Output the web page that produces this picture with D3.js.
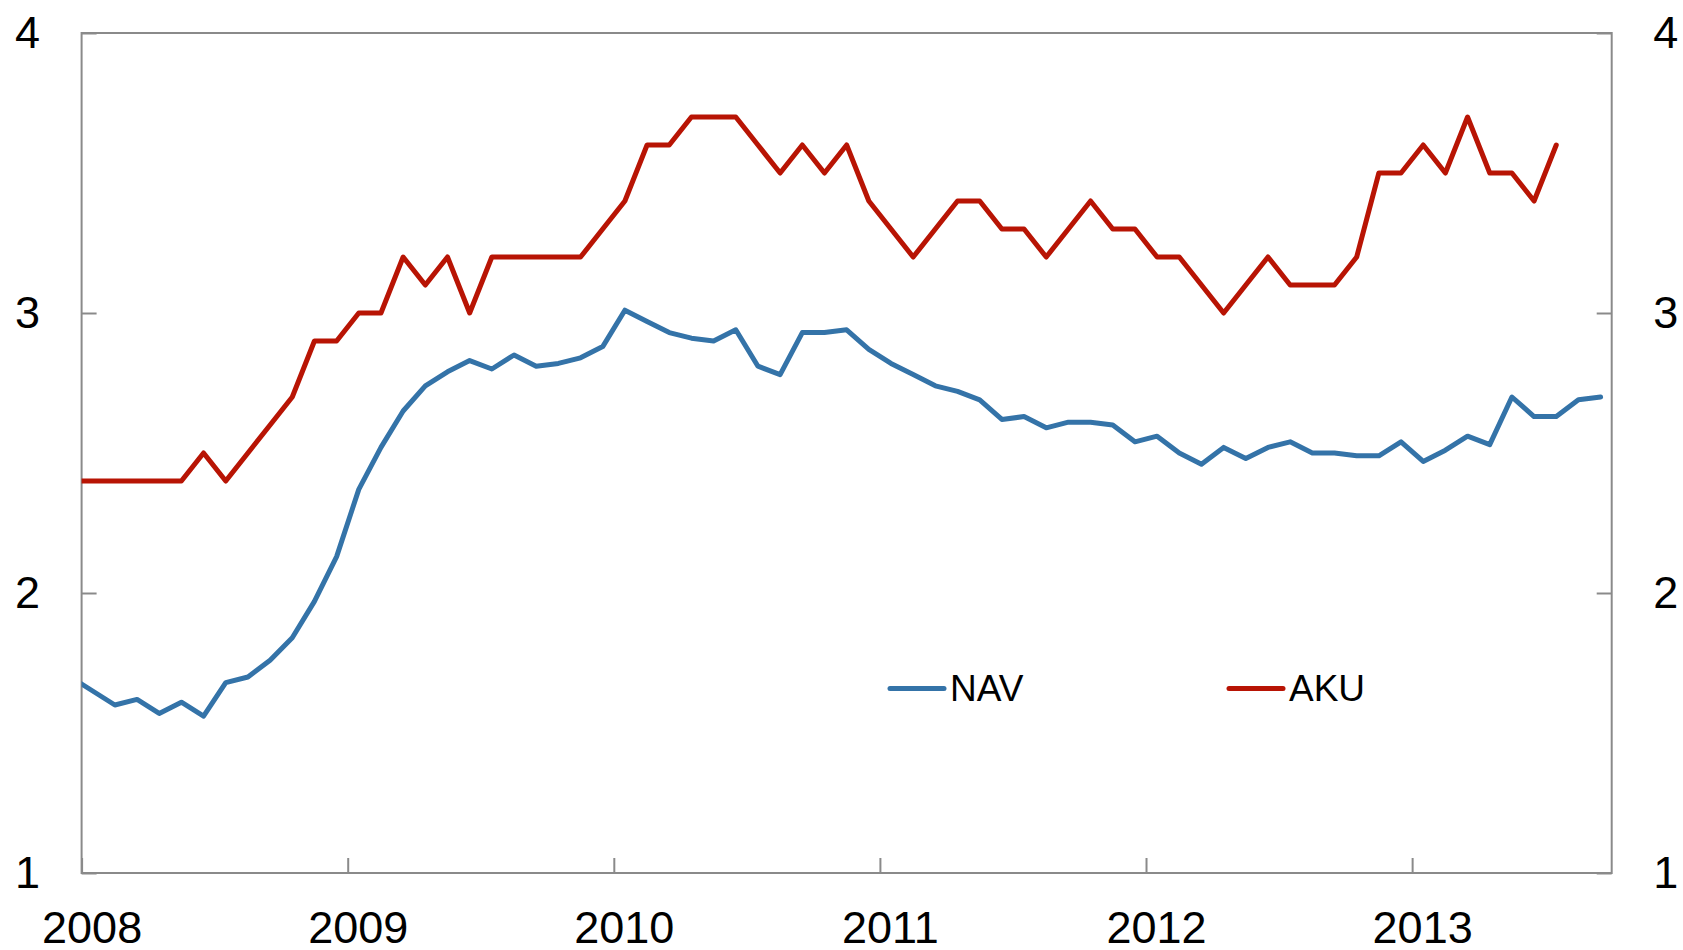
<!DOCTYPE html>
<html>
<head>
<meta charset="utf-8">
<script src="https://cdn.jsdelivr.net/npm/d3@7"></script>
<style>
  html, body { margin: 0; padding: 0; background: #fff; }
  svg { display: block; font-family: "Liberation Sans", Arial, sans-serif; }
  .axis text { font-size: 45px; fill: #000; }
  .axis .tick line { stroke: #8a8a8a; stroke-width: 2; }
  .legend text { font-size: 37px; fill: #000; }
</style>
</head>
<body>
<div id="chart"></div>
<script>
// Monthly series, first value is Dec 2007 (clipped at the left edge)
const firstMonth = { year: 2007, month: 12 };
const navValues = [
  1.70,
  1.65, 1.60, 1.62, 1.57, 1.61, 1.56, 1.68, 1.70, 1.76, 1.84, 1.97, 2.13,
  2.37, 2.52, 2.65, 2.74, 2.79, 2.83, 2.80, 2.85, 2.81, 2.82, 2.84, 2.88,
  3.01, 2.97, 2.93, 2.91, 2.90, 2.94, 2.81, 2.78, 2.93, 2.93, 2.94, 2.87,
  2.82, 2.78, 2.74, 2.72, 2.69, 2.62, 2.63, 2.59, 2.61, 2.61, 2.60, 2.54,
  2.56, 2.50, 2.46, 2.52, 2.48, 2.52, 2.54, 2.50, 2.50, 2.49, 2.49, 2.54,
  2.47, 2.51, 2.56, 2.53, 2.70, 2.63, 2.63, 2.69, 2.70
];
const akuValues = [
  2.4,
  2.4, 2.4, 2.4, 2.4, 2.4, 2.5, 2.4, 2.5, 2.6, 2.7, 2.9, 2.9,
  3.0, 3.0, 3.2, 3.1, 3.2, 3.0, 3.2, 3.2, 3.2, 3.2, 3.2, 3.3,
  3.4, 3.6, 3.6, 3.7, 3.7, 3.7, 3.6, 3.5, 3.6, 3.5, 3.6, 3.4,
  3.3, 3.2, 3.3, 3.4, 3.4, 3.3, 3.3, 3.2, 3.3, 3.4, 3.3, 3.3,
  3.2, 3.2, 3.1, 3.0, 3.1, 3.2, 3.1, 3.1, 3.1, 3.2, 3.5, 3.5,
  3.6, 3.5, 3.7, 3.5, 3.5, 3.4, 3.6
];
const yearTicks = [2008, 2009, 2010, 2011, 2012, 2013];
const yTicks = [1, 2, 3, 4];
const seriesNames = ['NAV', 'AKU'];
const colors = { NAV: '#3473a8', AKU: '#b81404' };

const W = 1683, H = 950;
const m = { left: 81.6, right: 1611.7, top: 33, bottom: 873 };

const svg = d3.select('#chart').append('svg')
  .attr('width', W)
  .attr('height', H);

// x: months since Jan 2008, points sit mid-month
const x = d3.scaleLinear().domain([0, 69]).range([m.left, m.right]);
const y = d3.scaleLinear().domain([1, 4]).range([m.bottom, m.top]);

const toPoints = vals => vals.map((v, i) => ({
  t: (firstMonth.year - 2008) * 12 + (firstMonth.month - 1) + i + 0.5,
  v
}));

svg.append('clipPath').attr('id', 'plot-clip')
  .append('rect')
  .attr('x', m.left).attr('y', 0)
  .attr('width', m.right - m.left).attr('height', H);

// Axes
const xAxis = d3.axisBottom(x)
  .tickValues(yearTicks.map(yr => (yr - 2008) * 12))
  .tickFormat(d => 2008 + d / 12)
  .tickSizeInner(-15).tickSizeOuter(0).tickPadding(38.5);

svg.append('g').attr('class', 'axis x')
  .attr('transform', `translate(0,${m.bottom})`)
  .call(xAxis)
  .call(g => g.select('.domain').remove())
  .call(g => g.selectAll('.tick text').attr('x', 10));

svg.append('g').attr('class', 'axis yl')
  .attr('transform', `translate(${m.left},0)`)
  .call(d3.axisLeft(y).tickValues(yTicks).tickFormat(d3.format('d'))
    .tickSizeInner(-15).tickSizeOuter(0).tickPadding(41.5))
  .call(g => g.select('.domain').remove());

svg.append('g').attr('class', 'axis yr')
  .attr('transform', `translate(${m.right},0)`)
  .call(d3.axisRight(y).tickValues(yTicks).tickFormat(d3.format('d'))
    .tickSizeInner(-15).tickSizeOuter(0).tickPadding(41.5))
  .call(g => g.select('.domain').remove());

// Frame
svg.append('rect')
  .attr('x', m.left).attr('y', m.top)
  .attr('width', m.right - m.left).attr('height', m.bottom - m.top)
  .attr('fill', 'none')
  .attr('stroke', '#8a8a8a')
  .attr('stroke-width', 2);

// Lines
const line = d3.line().x(d => x(d.t)).y(d => y(d.v));
const series = [
  { name: 'NAV', values: navValues },
  { name: 'AKU', values: akuValues }
];

svg.append('g').attr('clip-path', 'url(#plot-clip)')
  .selectAll('path')
  .data(series)
  .enter()
  .append('path')
  .attr('d', d => line(toPoints(d.values)))
  .attr('fill', 'none')
  .attr('stroke', d => colors[d.name])
  .attr('stroke-width', 5)
  .attr('stroke-linejoin', 'round')
  .attr('stroke-linecap', 'round');

// Legend
const legendPos = { NAV: 890, AKU: 1229 };
const legend = svg.append('g').attr('class', 'legend');
seriesNames.forEach(name => {
  const lx = legendPos[name];
  legend.append('line')
    .attr('x1', lx).attr('x2', lx + 54)
    .attr('y1', 688.5).attr('y2', 688.5)
    .attr('stroke', colors[name])
    .attr('stroke-width', 5)
    .attr('stroke-linecap', 'round');
  legend.append('text')
    .attr('x', lx + 60).attr('y', 701)
    .text(name);
});
</script>
</body>
</html>
